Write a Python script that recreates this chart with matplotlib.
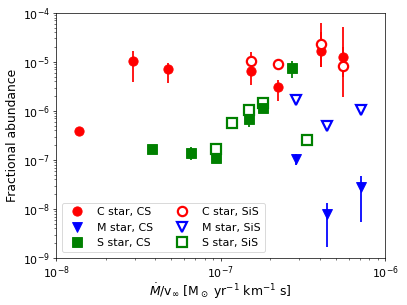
import matplotlib
matplotlib.use("Agg")
import matplotlib.pyplot as plt
from matplotlib.lines import Line2D

# C star, CS (filled red circles)
c_cs_x = [1.37e-8, 2.93e-8, 4.8e-8, 1.53e-7, 2.23e-7, 4.08e-7, 5.53e-7]
c_cs_y = [3.9e-7, 1.05e-5, 7.0e-6, 6.5e-6, 3.1e-6, 1.7e-5, 1.25e-5]
c_cs_lo = [3.3e-7, 3.8e-6, 3.7e-6, 3.4e-6, 1.6e-6, 7.7e-6, 5.0e-6]
c_cs_hi = [4.7e-7, 1.7e-5, 9.7e-6, 1.0e-5, 4.3e-6, 4.0e-5, 5.1e-5]

# C star, SiS (open red circles)
c_sis_x = [1.53e-7, 2.23e-7, 4.08e-7, 5.53e-7]
c_sis_y = [1.05e-5, 9.0e-6, 2.3e-5, 8.4e-6]
c_sis_lo = [6.5e-6, 8.0e-6, 8.0e-6, 1.9e-6]
c_sis_hi = [1.6e-5, 1.0e-5, 6.2e-5, 2.0e-5]

# M star, CS (filled blue triangles)
m_cs_x = [2.86e-7, 4.42e-7, 7.15e-7]
m_cs_y = [1.03e-7, 7.9e-9, 2.85e-8]
m_cs_lo = [8.0e-8, 1.7e-9, 5.4e-9]
m_cs_hi = [1.3e-7, 1.3e-8, 4.7e-8]

# M star, SiS (open blue triangles)
m_sis_x = [2.86e-7, 4.42e-7, 7.15e-7]
m_sis_y = [1.68e-6, 5.0e-7, 1.05e-6]

# S star, CS (filled green squares)
s_cs_x = [3.82e-8, 6.6e-8, 9.35e-8, 1.48e-7, 1.82e-7, 2.7e-7]
s_cs_y = [1.65e-7, 1.4e-7, 1.08e-7, 6.9e-7, 1.13e-6, 7.65e-6]
s_cs_lo = [1.5e-7, 9.8e-8, 9.5e-8, 4.8e-7, 1.0e-6, 4.8e-6]
s_cs_hi = [1.8e-7, 1.8e-7, 1.25e-7, 9.0e-7, 1.25e-6, 1.06e-5]

# S star, SiS (open green squares)
s_sis_x = [9.35e-8, 1.17e-7, 1.48e-7, 1.82e-7, 3.34e-7]
s_sis_y = [1.7e-7, 5.6e-7, 1.02e-6, 1.44e-6, 2.57e-7]

labels = ['C star, CS', 'M star, CS', 'S star, CS', 'C star, SiS', 'M star, SiS', 'S star, SiS']


def errs(y, lo, hi):
    return [[v - l for v, l in zip(y, lo)], [h - v for v, h in zip(y, hi)]]


fig = plt.figure(figsize=(6.4, 4.8), dpi=63.6)
ax = fig.add_axes([0.138, 0.154, 0.808, 0.803])

ms = 10.5
mew = 2.5
kw = dict(ls='none', elinewidth=2, capsize=0)
ax.errorbar(c_cs_x, c_cs_y, yerr=errs(c_cs_y, c_cs_lo, c_cs_hi), fmt='o', color='red', ms=ms, **kw)
ax.errorbar(m_cs_x, m_cs_y, yerr=errs(m_cs_y, m_cs_lo, m_cs_hi), fmt='v', color='blue', ms=ms, **kw)
ax.errorbar(s_cs_x, s_cs_y, yerr=errs(s_cs_y, s_cs_lo, s_cs_hi), fmt='s', color='green', ms=ms, **kw)
ax.errorbar(c_sis_x, c_sis_y, yerr=errs(c_sis_y, c_sis_lo, c_sis_hi), fmt='o', color='red',
            mfc='white', mew=mew, ms=ms, **kw)
ax.plot(m_sis_x, m_sis_y, 'v', color='blue', mfc='white', mew=mew, ms=ms, ls='none')
ax.plot(s_sis_x, s_sis_y, 's', color='green', mfc='white', mew=mew, ms=ms, ls='none')

ax.set_xscale('log')
ax.set_yscale('log')
ax.set_xlim(1e-8, 1e-6)
ax.set_ylim(1e-9, 1e-4)
ax.tick_params(labelsize=12.5)
ax.set_xlabel(r'$\dot{M}$/v$_\infty$ [M$_\odot$ yr$^{-1}$ km$^{-1}$ s]', fontsize=14, labelpad=1)
ax.set_ylabel('Fractional abundance', fontsize=14)

handles = []
for m, c, filled in [('o', 'red', True), ('v', 'blue', True), ('s', 'green', True),
                     ('o', 'red', False), ('v', 'blue', False), ('s', 'green', False)]:
    if filled:
        handles.append(Line2D([], [], ls='none', marker=m, color=c, ms=ms))
    else:
        handles.append(Line2D([], [], ls='none', marker=m, color=c, mfc='white', mew=mew, ms=ms))
ax.legend(handles, labels, ncol=2, loc='lower left', fontsize=12.5, columnspacing=1.6)

fig.savefig('out.png', dpi=63.6)
